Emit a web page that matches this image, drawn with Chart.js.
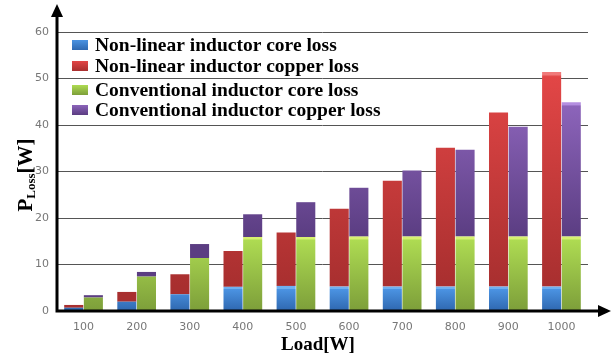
<!DOCTYPE html>
<html>
<head>
<meta charset="utf-8">
<script src="https://cdn.jsdelivr.net/npm/chart.js@4/dist/chart.umd.min.js"></script>
<style>
  html, body { margin: 0; padding: 0; background: #fff; }
  #wrap { width: 613px; height: 360px; }
</style>
</head>
<body>
<div id="wrap"><canvas id="lossChart" width="613" height="360"></canvas></div>
<script>
// chart data (segment heights in W)
var loads = ['100', '200', '300', '400', '500', '600', '700', '800', '900', '1000'];
var nlCore   = [0.7, 2.0, 3.6, 5.2, 5.4, 5.25, 5.25, 5.25, 5.25, 5.25];
var nlCopper = [0.6, 2.1, 4.3, 7.7, 11.5, 16.75, 22.75, 29.85, 37.45, 46.15];
var cvCore   = [2.9, 7.4, 11.4, 15.9, 15.9, 16.0, 16.0, 16.0, 16.0, 16.0];
var cvCopper = [0.5, 1.0, 3.0, 4.9, 7.5, 10.5, 14.2, 18.7, 23.6, 28.9];
var yTicks = [0, 10, 20, 30, 40, 50, 60];

// highlight / top / bottom colours of each bar gradient
var shades = [
  ['#6fb0f0', '#4b93e2', '#2f68b0'],
  ['#f07a7a', '#e24646', '#a82f2f'],
  ['#d8f070', '#aedb52', '#7d9f3a'],
  ['#b48ee0', '#8c64ba', '#5b3d82']
];

var serif = '"Liberation Serif", "Times New Roman", serif';

// paint every bar with its own vertical gradient
var barShade = {
  id: 'barShade',
  beforeDatasetsDraw: function(chart) {
    var ctx = chart.ctx;
    chart.data.datasets.forEach(function(ds, i) {
      var meta = chart.getDatasetMeta(i);
      meta.data.forEach(function(bar) {
        var top = Math.min(bar.y, bar.base), bot = Math.max(bar.y, bar.base);
        var h = Math.max(bot - top, 1);
        var edge = Math.min(2.5 / h, 0.4);
        var g = ctx.createLinearGradient(0, top, 0, bot);
        g.addColorStop(0, shades[i][0]);
        g.addColorStop(edge, shades[i][0]);
        g.addColorStop(Math.min(edge + 0.01, 0.5), shades[i][1]);
        g.addColorStop(1, shades[i][2]);
        bar.options.backgroundColor = g;
      });
    });
  }
};

// axes with arrows, titles and the legend inside the plot
var decor = {
  id: 'decor',
  afterDraw: function(chart) {
    var ctx = chart.ctx;
    var area = chart.chartArea;
    var y0 = chart.scales.y.getPixelForValue(0);
    var x0 = area.left;
    ctx.save();
    ctx.strokeStyle = '#000';
    ctx.fillStyle = '#000';
    ctx.lineWidth = 3;
    ctx.beginPath();
    ctx.moveTo(x0, y0 + 1.5);
    ctx.lineTo(x0, 14);
    ctx.moveTo(x0 - 1.5, y0);
    ctx.lineTo(600, y0);
    ctx.stroke();
    ctx.beginPath();
    ctx.moveTo(x0, 4);
    ctx.lineTo(x0 - 6, 17);
    ctx.lineTo(x0 + 6, 17);
    ctx.closePath();
    ctx.fill();
    ctx.beginPath();
    ctx.moveTo(611, y0);
    ctx.lineTo(598, y0 - 6);
    ctx.lineTo(598, y0 + 6);
    ctx.closePath();
    ctx.fill();

    // x title
    ctx.font = 'bold 19px ' + serif;
    ctx.textAlign = 'center';
    ctx.textBaseline = 'middle';
    ctx.fillText('Load[W]', 318, 345);

    // y title with subscript
    ctx.translate(26, 175);
    ctx.rotate(-Math.PI / 2);
    ctx.textAlign = 'left';
    ctx.textBaseline = 'alphabetic';
    var p = 'P', sub = 'Loss', rest = '[W]';
    ctx.font = 'bold 21px ' + serif;
    var wp = ctx.measureText(p).width;
    var wr = ctx.measureText(rest).width;
    ctx.font = 'bold 13px ' + serif;
    var ws = ctx.measureText(sub).width;
    var sx = -(wp + ws + wr) / 2;
    ctx.font = 'bold 21px ' + serif;
    ctx.fillText(p, sx, 6);
    ctx.font = 'bold 13px ' + serif;
    ctx.fillText(sub, sx + wp, 9);
    ctx.font = 'bold 21px ' + serif;
    ctx.fillText(rest, sx + wp + ws, 6);
    ctx.restore();

    // legend
    ctx.save();
    var rows = [45, 66, 90, 110];
    ctx.font = 'bold 19.5px ' + serif;
    ctx.textBaseline = 'middle';
    chart.data.datasets.forEach(function(ds, i) {
      var y = rows[i];
      var g = ctx.createLinearGradient(0, y - 5, 0, y + 5);
      g.addColorStop(0, shades[i][1]);
      g.addColorStop(1, shades[i][2]);
      ctx.fillStyle = g;
      ctx.fillRect(72, y - 5, 16, 10);
      ctx.fillStyle = '#000';
      ctx.fillText(ds.label, 95, y + 1);
    });
    ctx.restore();
  }
};

var ctx = document.getElementById('lossChart').getContext('2d');
var lossChart = new Chart(ctx, {
  type: 'bar',
  data: {
    labels: loads,
    datasets: [
      { label: 'Non-linear inductor core loss', data: nlCore, stack: 'nl', backgroundColor: shades[0][1] },
      { label: 'Non-linear inductor copper loss', data: nlCopper, stack: 'nl', backgroundColor: shades[1][1] },
      { label: 'Conventional inductor core loss', data: cvCore, stack: 'cv', backgroundColor: shades[2][1] },
      { label: 'Conventional inductor copper loss', data: cvCopper, stack: 'cv', backgroundColor: shades[3][1] }
    ]
  },
  options: {
    responsive: false,
    animation: false,
    layout: { padding: { left: 0, right: 25, top: 32, bottom: 0 } },
    categoryPercentage: 0.74,
    barPercentage: 0.97,
    plugins: {
      legend: { display: false },
      tooltip: { enabled: false }
    },
    scales: {
      x: {
        stacked: true,
        grid: { display: false, drawTicks: false },
        border: { display: false },
        ticks: { color: '#777', font: { size: 11, family: 'DejaVu Sans' }, padding: 10 },
        afterFit: function(scale) { scale.height = 49; }
      },
      y: {
        stacked: true,
        min: 0,
        max: 60,
        afterBuildTicks: function(scale) {
          scale.ticks = yTicks.map(function(v) { return { value: v }; });
        },
        grid: { color: '#555', lineWidth: 1, drawTicks: false },
        border: { display: false },
        ticks: { color: '#777', font: { size: 11, family: 'DejaVu Sans' }, padding: 8 },
        afterFit: function(scale) { scale.width = 57; }
      }
    }
  },
  plugins: [barShade, decor]
});
</script>
</body>
</html>
